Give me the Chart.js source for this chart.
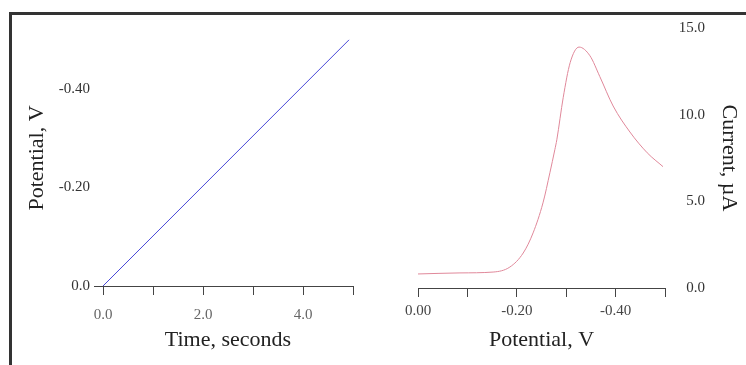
<!DOCTYPE html>
<html>
<head>
<meta charset="utf-8">
<script src="https://cdn.jsdelivr.net/npm/chart.js@4"></script>
<style>
  body { margin: 0; background: #fff; width: 746px; height: 365px; overflow: hidden; position: relative; }
  #frame { position: absolute; left: 9px; top: 12px; width: 760px; height: 380px; border-left: 3px solid #333; border-top: 3px solid #333; }
  canvas { position: absolute; top: 0; }
  #left { left: 0; }
  #right { left: 373px; }
</style>
</head>
<body>
<div id="frame"></div>
<canvas id="left" width="373" height="365"></canvas>
<canvas id="right" width="373" height="365"></canvas>
<script>
// potential ramp (left)
const rampTime = [0, 4.92];
const rampPotential = [0, -0.5];
const timeTicks = [0, 1, 2, 3, 4, 5];
const timeTickLabels = ["0.0", "", "2.0", "", "4.0", ""];
const rampTicks = [0, -0.2, -0.4];
const rampTickLabels = ["0.0", "-0.20", "-0.40"];

// voltammogram (right)
const scanPotential = [0, -0.085, -0.152, -0.186, -0.213, -0.233, -0.253, -0.267, -0.277, -0.281, -0.294, -0.308, -0.326, -0.348, -0.368, -0.395, -0.429, -0.464, -0.496];
const scanCurrent = [0.81, 0.87, 0.92, 1.21, 2.02, 3.18, 4.91, 6.65, 7.98, 8.55, 11.0, 13.0, 13.9, 13.4, 12.2, 10.5, 9.0, 7.8, 7.0];
const potentialTicks = [0, -0.1, -0.2, -0.3, -0.4, -0.5];
const potentialTickLabels = ["0.00", "", "-0.20", "", "-0.40", ""];
const currentTicks = [0, 5, 10, 15];
const currentTickLabels = ["0.0", "5.0", "10.0", "15.0"];

Chart.defaults.font.family = "Liberation Serif";
Chart.defaults.animation = false;

const tickFont = { size: 15 };
const titleFont = { size: 22 };

function setTicks(values) {
  return (s) => { s.ticks = values.map((v) => ({ value: v })); };
}

new Chart(document.getElementById("left"), {
  type: "scatter",
  data: {
    datasets: [{
      data: rampTime.map((t, i) => ({ x: t, y: rampPotential[i] })),
      showLine: true,
      borderColor: "#4848d8",
      borderWidth: 1,
      pointRadius: 0,
    }],
  },
  options: {
    responsive: false,
    layout: { padding: { left: 20, top: 30, right: 20, bottom: 8 } },
    plugins: { legend: { display: false }, tooltip: { enabled: false } },
    scales: {
      x: {
        type: "linear",
        min: 0,
        max: 5,
        afterBuildTicks: setTicks(timeTicks),
        afterFit: (s) => { s.height = 71; },
        border: { display: true, color: "#444" },
        grid: { drawOnChartArea: false, tickLength: 9, tickColor: "#444" },
        ticks: { font: tickFont, color: "#666", padding: 11, maxRotation: 0, callback: (v, i) => timeTickLabels[i] },
        title: { display: true, text: "Time, seconds", font: titleFont, color: "#222" },
      },
      y: {
        type: "linear",
        reverse: true,
        min: -0.52,
        max: 0,
        afterBuildTicks: setTicks(rampTicks),
        afterFit: (s) => { s.width = 83; },
        border: { display: false },
        grid: { drawOnChartArea: false, tickLength: 9, tickColor: (c) => (c.tick && c.tick.value === 0 ? "#444" : "rgba(0,0,0,0)") },
        ticks: { font: tickFont, color: "#333", padding: 4, callback: (v, i) => rampTickLabels[i] },
        title: { display: true, text: "Potential, V", font: titleFont, color: "#222" },
      },
    },
  },
});

new Chart(document.getElementById("right"), {
  type: "scatter",
  data: {
    datasets: [{
      data: scanPotential.map((p, i) => ({ x: p, y: scanCurrent[i] })),
      showLine: true,
      cubicInterpolationMode: "monotone",
      borderColor: "#e0889a",
      borderWidth: 1,
      pointRadius: 0,
    }],
  },
  options: {
    responsive: false,
    layout: { padding: { left: 45, top: 28, right: 2, bottom: 8 } },
    plugins: { legend: { display: false }, tooltip: { enabled: false } },
    scales: {
      x: {
        type: "linear",
        reverse: true,
        min: -0.5,
        max: 0,
        afterBuildTicks: setTicks(potentialTicks),
        afterFit: (s) => { s.height = 69; },
        border: { display: true, color: "#444" },
        grid: { drawOnChartArea: false, tickLength: 9, tickColor: "#444" },
        ticks: { font: tickFont, color: "#444", padding: 5, maxRotation: 0, callback: (v, i) => potentialTickLabels[i] },
        title: { display: true, text: "Potential, V", font: titleFont, color: "#222" },
      },
      y: {
        type: "linear",
        position: "right",
        min: 0,
        max: 15,
        afterBuildTicks: setTicks(currentTicks),
        afterFit: (s) => { s.width = 40; },
        border: { display: false },
        grid: { drawOnChartArea: false, drawTicks: false },
        ticks: { font: tickFont, color: "#333", padding: 8, crossAlign: "far", callback: (v, i) => currentTickLabels[i] },
      },
      yTitle: {
        type: "linear",
        position: "right",
        min: 0,
        max: 1,
        afterFit: (s) => { s.width = 39; },
        border: { display: false },
        grid: { display: false },
        ticks: { display: false },
        title: { display: true, text: "Current, µA", font: titleFont, color: "#222", padding: 2 },
      },
    },
  },
});
</script>
</body>
</html>
